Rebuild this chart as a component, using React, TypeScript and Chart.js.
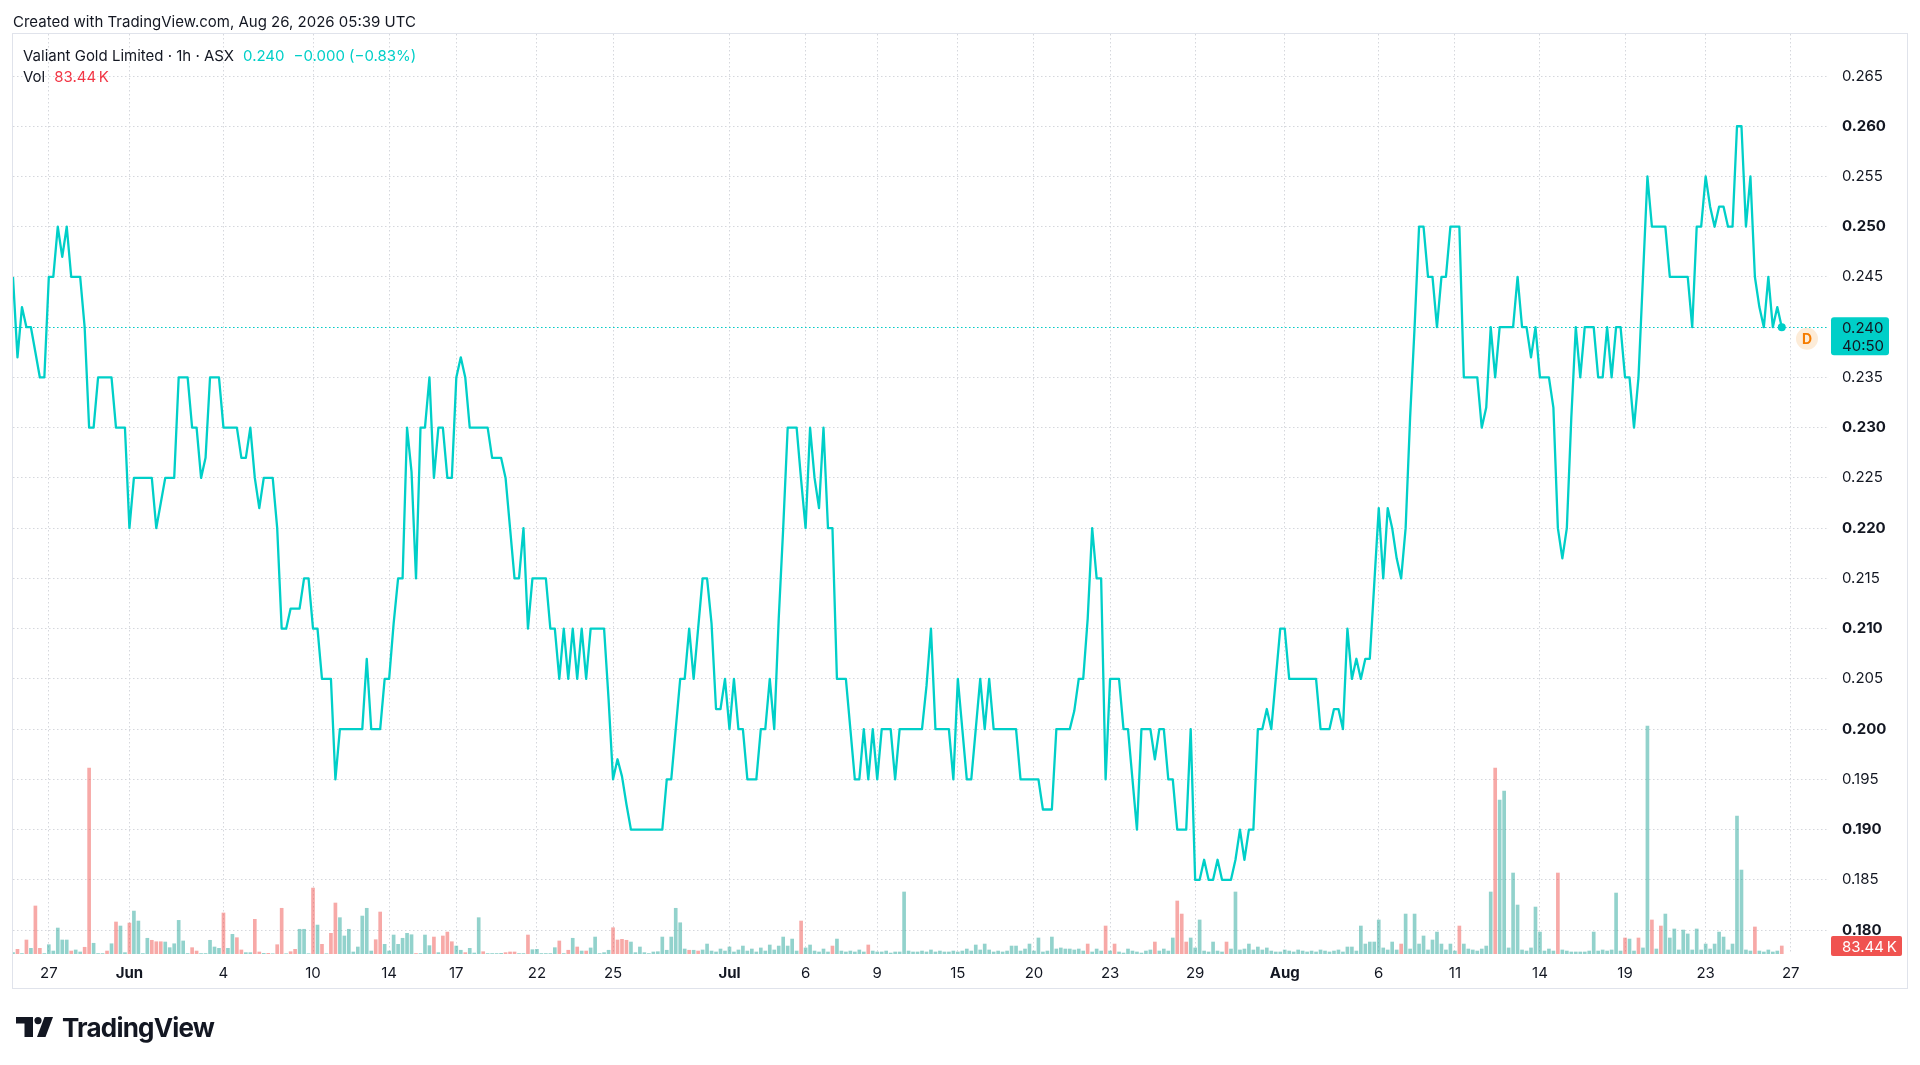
import React, { useEffect, useRef } from "react";
import { Chart, registerables } from "chart.js";

Chart.register(...registerables);

// ---------- data ----------
const headerText = "Created with TradingView.com, Aug 26, 2026 05:39 UTC";
const symbolTitle = "Valiant Gold Limited · 1h · ASX";
const lastPriceText = "0.240";
const changeText = "−0.000 (−0.83%)";
const volumeTitle = "Vol";
const volumeLabel = "83.44\u202FK";
const lastPriceCountdown = "40:50";
const brandText = "TradingView";

// hourly closes (one per bar)
const priceValues: number[] = [
  0.245, 0.237, 0.242, 0.24, 0.24, 0.2375, 0.235, 0.235, 0.245, 0.245,
  0.25, 0.247, 0.25, 0.245, 0.245, 0.245, 0.24, 0.23, 0.23, 0.235,
  0.235, 0.235, 0.235, 0.23, 0.23, 0.23, 0.22, 0.225, 0.225, 0.225,
  0.225, 0.225, 0.22, 0.2225, 0.225, 0.225, 0.225, 0.235, 0.235, 0.235,
  0.23, 0.23, 0.225, 0.227, 0.235, 0.235, 0.235, 0.23, 0.23, 0.23,
  0.23, 0.227, 0.227, 0.23, 0.225, 0.222, 0.225, 0.225, 0.225, 0.22,
  0.21, 0.21, 0.212, 0.212, 0.212, 0.215, 0.215, 0.21, 0.21, 0.205,
  0.205, 0.205, 0.195, 0.2, 0.2, 0.2, 0.2, 0.2, 0.2, 0.207,
  0.2, 0.2, 0.2, 0.205, 0.205, 0.2105, 0.215, 0.215, 0.23, 0.2256,
  0.215, 0.23, 0.23, 0.235, 0.225, 0.23, 0.23, 0.225, 0.225, 0.235,
  0.237, 0.235, 0.23, 0.23, 0.23, 0.23, 0.23, 0.227, 0.227, 0.227,
  0.225, 0.22, 0.215, 0.215, 0.22, 0.21, 0.215, 0.215, 0.215, 0.215,
  0.21, 0.21, 0.205, 0.21, 0.205, 0.21, 0.205, 0.21, 0.205, 0.21,
  0.21, 0.21, 0.21, 0.203, 0.195, 0.197, 0.1953, 0.1925, 0.19, 0.19,
  0.19, 0.19, 0.19, 0.19, 0.19, 0.19, 0.195, 0.195, 0.2, 0.205,
  0.205, 0.21, 0.205, 0.21, 0.215, 0.215, 0.2105, 0.202, 0.202, 0.205,
  0.2, 0.205, 0.2, 0.2, 0.195, 0.195, 0.195, 0.2, 0.2, 0.205,
  0.2, 0.211, 0.22, 0.23, 0.23, 0.23, 0.2248, 0.22, 0.23, 0.225,
  0.222, 0.23, 0.22, 0.22, 0.205, 0.205, 0.205, 0.2, 0.195, 0.195,
  0.2, 0.195, 0.2, 0.195, 0.2, 0.2, 0.2, 0.195, 0.2, 0.2,
  0.2, 0.2, 0.2, 0.2, 0.2043, 0.21, 0.2, 0.2, 0.2, 0.2,
  0.195, 0.205, 0.2, 0.195, 0.195, 0.2, 0.205, 0.2, 0.205, 0.2,
  0.2, 0.2, 0.2, 0.2, 0.2, 0.195, 0.195, 0.195, 0.195, 0.195,
  0.192, 0.192, 0.192, 0.2, 0.2, 0.2, 0.2, 0.2018, 0.205, 0.205,
  0.211, 0.22, 0.215, 0.215, 0.195, 0.205, 0.205, 0.205, 0.2, 0.2,
  0.195, 0.19, 0.2, 0.2, 0.2, 0.197, 0.2, 0.2, 0.195, 0.195,
  0.19, 0.19, 0.19, 0.2, 0.185, 0.185, 0.187, 0.185, 0.185, 0.187,
  0.185, 0.185, 0.185, 0.187, 0.19, 0.187, 0.19, 0.19, 0.2, 0.2,
  0.202, 0.2, 0.205, 0.21, 0.21, 0.205, 0.205, 0.205, 0.205, 0.205,
  0.205, 0.205, 0.2, 0.2, 0.2, 0.202, 0.202, 0.2, 0.21, 0.205,
  0.207, 0.205, 0.207, 0.207, 0.2145, 0.222, 0.215, 0.222, 0.22, 0.217,
  0.215, 0.22, 0.231, 0.24, 0.25, 0.25, 0.245, 0.245, 0.24, 0.245,
  0.245, 0.25, 0.25, 0.25, 0.235, 0.235, 0.235, 0.235, 0.23, 0.232,
  0.24, 0.235, 0.24, 0.24, 0.24, 0.24, 0.245, 0.24, 0.24, 0.237,
  0.24, 0.235, 0.235, 0.235, 0.232, 0.22, 0.217, 0.22, 0.231, 0.24,
  0.235, 0.24, 0.24, 0.24, 0.235, 0.235, 0.24, 0.235, 0.24, 0.24,
  0.235, 0.235, 0.23, 0.235, 0.245, 0.255, 0.25, 0.25, 0.25, 0.25,
  0.245, 0.245, 0.245, 0.245, 0.245, 0.24, 0.25, 0.25, 0.255, 0.252,
  0.25, 0.252, 0.252, 0.25, 0.25, 0.26, 0.26, 0.25, 0.255, 0.245,
  0.242, 0.24, 0.245, 0.24, 0.242, 0.24,
];

// hourly volume, thousands of shares
const volumeValues: number[] = [
  14, 49, 5, 146, 59, 501, 59, 5, 97, 31,
  271, 146, 146, 31, 42, 21, 70, 1940, 112, 5,
  5, 31, 107, 334, 292, 14, 323, 448, 344, 5,
  164, 143, 128, 128, 125, 66, 107, 351, 136, 5,
  66, 31, 5, 5, 143, 73, 59, 428, 59, 205,
  170, 42, 14, 14, 362, 21, 7, 7, 3, 97,
  477, 3, 24, 49, 258, 258, 3, 688, 302, 101,
  3, 216, 532, 379, 188, 258, 21, 73, 396, 477,
  31, 149, 438, 101, 31, 198, 101, 164, 216, 201,
  5, 5, 198, 87, 177, 14, 188, 229, 128, 83,
  39, 14, 59, 10, 379, 24, 5, 5, 5, 7,
  14, 21, 21, 5, 5, 198, 45, 49, 5, 5,
  5, 66, 136, 5, 39, 164, 73, 31, 31, 63,
  177, 5, 14, 39, 274, 146, 153, 143, 125, 14,
  73, 14, 5, 21, 24, 177, 39, 177, 477, 326,
  52, 39, 39, 31, 42, 104, 31, 21, 52, 31,
  73, 21, 42, 83, 31, 52, 21, 63, 31, 94,
  42, 83, 177, 83, 156, 31, 344, 63, 94, 31,
  21, 52, 21, 83, 156, 31, 21, 31, 21, 42,
  21, 94, 31, 21, 21, 31, 10, 21, 21, 647,
  31, 21, 21, 31, 21, 42, 21, 31, 21, 21,
  31, 21, 31, 52, 31, 94, 42, 104, 42, 21,
  31, 21, 31, 83, 83, 31, 52, 104, 31, 167,
  21, 31, 177, 52, 63, 52, 52, 42, 52, 31,
  104, 21, 52, 31, 292, 31, 104, 21, 10, 52,
  31, 21, 10, 31, 42, 125, 31, 52, 31, 167,
  553, 417, 125, 167, 63, 355, 31, 21, 125, 31,
  21, 125, 52, 647, 42, 52, 104, 42, 73, 42,
  63, 31, 21, 21, 42, 31, 21, 42, 31, 21,
  31, 21, 42, 31, 21, 31, 42, 21, 73, 73,
  31, 292, 104, 125, 125, 355, 63, 42, 125, 42,
  104, 417, 52, 417, 104, 188, 42, 146, 229, 104,
  42, 104, 31, 292, 104, 52, 42, 31, 52, 83,
  647, 1940, 1606, 1700, 63, 845, 511, 42, 31, 63,
  490, 229, 31, 52, 31, 845, 42, 31, 21, 21,
  21, 21, 31, 229, 31, 42, 31, 42, 636, 31,
  167, 156, 31, 167, 63, 2378, 355, 52, 292, 417,
  167, 261, 42, 250, 209, 42, 261, 42, 104, 52,
  104, 229, 177, 42, 104, 1439, 876, 42, 31, 282,
  31, 21, 42, 21, 31, 83.44,
];

// bars whose volume is drawn in the "down" colour
const volumeDownBars: number[] = [
  1, 3, 5, 6, 13, 16, 17, 21, 23, 26, 31, 32, 33, 40, 41, 47, 50, 51, 54, 55,
  57, 59, 60, 62, 63, 67, 69, 71, 72, 81, 82, 90, 94, 96, 97, 98, 101, 105,
  110, 111, 112, 115, 122, 124, 126, 128, 134, 135, 136, 137, 151, 153, 176,
  183, 191, 240, 244, 246, 255, 260, 261, 262, 271, 310, 323, 331, 345, 360,
  363, 366, 368, 389, 395,
];

// time axis: bar index of each labelled session and its label
const xTickIndex: number[] = [8, 26, 47, 67, 84, 99, 117, 134, 160, 177, 193, 211, 228, 245, 264, 284, 305, 322, 341, 360, 378, 397];
const xTickLabel: string[] = ["27", "Jun", "4", "10", "14", "17", "22", "25", "Jul", "6", "9", "15", "20", "23", "29", "Aug", "6", "11", "14", "19", "23", "27"];

// price axis
const yTickValues: number[] = [
  0.18, 0.185, 0.19, 0.195, 0.2, 0.205, 0.21, 0.215, 0.22, 0.225,
  0.23, 0.235, 0.24, 0.245, 0.25, 0.255, 0.26, 0.265,
];
const priceMin = 0.17762;
const priceMax = 0.26918;
const volumeAxisMax = 9600;
const barAxisMax = 405.1;

// ---------- styles ----------
const LINE = "#00cfc8";
const TEXT = "#131722";
const GRID = "#d5d7dc";
const UP_VOL = "rgba(38,166,154,0.5)";
const DOWN_VOL = "rgba(239,83,80,0.5)";
const DOWN_SOLID = "#f05350";
const FONT = "Inter, 'Noto Sans', sans-serif";

const downSet = new Set(volumeDownBars);

const overlayPlugin = {
  id: "tvOverlay",
  beforeDatasetsDraw(chart: any) {
    const { ctx, chartArea, scales } = chart;
    const last = priceValues.length - 1;
    const y = Math.round(scales.y.getPixelForValue(priceValues[last])) + 0.5;
    ctx.save();
    ctx.strokeStyle = LINE;
    ctx.lineWidth = 1;
    ctx.setLineDash([1.5, 2.5]);
    ctx.beginPath();
    ctx.moveTo(chartArea.left, y);
    ctx.lineTo(chartArea.right, y);
    ctx.stroke();
    ctx.restore();
  },
  afterDraw(chart: any) {
    const { ctx, chartArea, scales } = chart;
    const last = priceValues.length - 1;
    const py = scales.y.getPixelForValue(priceValues[last]);
    const bx = chartArea.right + 4;
    const tx = chartArea.right + 15;
    ctx.save();
    // last price label
    ctx.fillStyle = LINE;
    ctx.beginPath();
    (ctx as any).roundRect(bx, py - 10, 58, 38, 3);
    ctx.fill();
    ctx.fillStyle = TEXT;
    ctx.font = `15px ${FONT}`;
    ctx.textAlign = "left";
    ctx.textBaseline = "middle";
    ctx.fillText(priceValues[last].toFixed(3), tx, py + 1);
    ctx.fillText(lastPriceCountdown, tx, py + 19);
    // "D" badge
    const dx = chartArea.right - 20;
    const dy = py + 11.5;
    ctx.fillStyle = "#fdecd8";
    ctx.beginPath();
    ctx.arc(dx, dy, 11, 0, Math.PI * 2);
    ctx.fill();
    ctx.fillStyle = "#f57c00";
    ctx.font = `bold 14px ${FONT}`;
    ctx.textAlign = "center";
    ctx.fillText("D", dx, dy + 1);
    // volume label
    const vy = scales.yVol.getPixelForValue(volumeValues[last]);
    ctx.fillStyle = DOWN_SOLID;
    ctx.beginPath();
    (ctx as any).roundRect(bx, vy - 10, 71, 20, 2);
    ctx.fill();
    ctx.fillStyle = "#ffffff";
    ctx.font = `15px ${FONT}`;
    ctx.textAlign = "left";
    ctx.fillText(volumeLabel, tx, vy + 1);
    ctx.restore();
  },
};

function PriceChart() {
  const ref = useRef<HTMLCanvasElement | null>(null);
  useEffect(() => {
    if (!ref.current) return;
    const last = priceValues.length - 1;
    const chart = new Chart(ref.current, {
      type: "line",
      data: {
        datasets: [
          {
            type: "line",
            data: priceValues.map((v, i) => ({ x: i, y: v })),
            borderColor: LINE,
            borderWidth: 2.3,
            borderJoinStyle: "round",
            tension: 0,
            pointRadius: (c: any) => (c.dataIndex === last ? 4 : 0),
            pointHoverRadius: 0,
            pointBackgroundColor: LINE,
            pointBorderWidth: 0,
            xAxisID: "x",
            yAxisID: "y",
          } as any,
          {
            type: "bar",
            data: volumeValues.map((v, i) => ({ x: i, y: v })),
            backgroundColor: volumeValues.map((_, i) => (downSet.has(i) ? DOWN_VOL : UP_VOL)),
            borderWidth: 0,
            barThickness: 3,
            grouped: false,
            xAxisID: "x",
            yAxisID: "yVol",
          } as any,
        ],
      },
      options: {
        responsive: false,
        animation: false,
        events: [],
        layout: { padding: { left: 13, top: 34, right: 13, bottom: 77 } },
        plugins: { legend: { display: false }, tooltip: { enabled: false } },
        scales: {
          x: {
            type: "linear",
            position: "bottom",
            min: 0,
            max: barAxisMax,
            offset: false,
            afterBuildTicks: (s: any) => {
              s.ticks = xTickIndex.map((v) => ({ value: v }));
            },
            afterFit: (s: any) => {
              s.height = 34;
            },
            grid: { color: GRID, lineWidth: 1, drawTicks: false, offset: false },
            border: { display: false, dash: [1.5, 2.5] },
            ticks: {
              autoSkip: false,
              maxRotation: 0,
              padding: 10,
              color: TEXT,
              callback: (_v: any, i: number) => xTickLabel[i],
              font: (c: any) => ({
                family: FONT,
                size: 15,
                weight: isNaN(Number(xTickLabel[c.index])) ? "bold" : "normal",
              }),
            },
          } as any,
          y: {
            type: "linear",
            position: "right",
            min: priceMin,
            max: priceMax,
            afterBuildTicks: (s: any) => {
              s.ticks = yTickValues.map((v) => ({ value: v }));
            },
            afterFit: (s: any) => {
              s.width = 80;
            },
            grid: { color: GRID, lineWidth: 1, drawTicks: false },
            border: { display: false, dash: [1.5, 2.5] },
            ticks: {
              autoSkip: false,
              padding: 15,
              color: TEXT,
              callback: (v: any) => Number(v).toFixed(3),
              font: (c: any) => {
                const v = c.tick ? c.tick.value : 0;
                const bold = Math.round(v * 1000) % 10 === 0;
                return { family: FONT, size: 15, weight: bold ? "bold" : "normal" };
              },
            },
          } as any,
          yVol: {
            type: "linear",
            display: false,
            min: 0,
            max: volumeAxisMax,
          },
        },
      },
      plugins: [overlayPlugin as any],
    });
    return () => chart.destroy();
  }, []);
  return (
    <canvas
      ref={ref}
      width={1920}
      height={1065}
      style={{ position: "absolute", left: 0, top: 0, width: 1920, height: 1065 }}
    />
  );
}

export default function App() {
  return (
    <div
      style={{
        position: "fixed",
        left: 0,
        top: 0,
        width: 1920,
        height: 1065,
        overflow: "hidden",
        background: "#ffffff",
        fontFamily: FONT,
        color: TEXT,
      }}
    >
      <div
        style={{
          position: "absolute",
          left: 12,
          top: 33,
          width: 1896,
          height: 956,
          border: "1px solid #e0e3eb",
          boxSizing: "border-box",
        }}
      />
      <PriceChart />
      <div style={{ position: "absolute", left: 13, top: 12.5, fontSize: 15, lineHeight: "18px", whiteSpace: "nowrap" }}>
        {headerText}
      </div>
      <div style={{ position: "absolute", left: 23, top: 47, fontSize: 15, lineHeight: "18px", whiteSpace: "nowrap" }}>
        <span>{symbolTitle}</span>
        <span style={{ color: LINE, marginLeft: 9 }}>{lastPriceText}</span>
        <span style={{ color: LINE, marginLeft: 9 }}>{changeText}</span>
      </div>
      <div style={{ position: "absolute", left: 23, top: 67.5, fontSize: 15, lineHeight: "18px", whiteSpace: "nowrap" }}>
        <span>{volumeTitle}</span>
        <span style={{ color: "#f23645", marginLeft: 9 }}>{volumeLabel}</span>
      </div>
      <svg
        width={37}
        height={20}
        viewBox="0 0 37 20"
        style={{ position: "absolute", left: 15.5, top: 1017 }}
      >
        <path d="M0 0H17V20H8.5V6.5H0Z" fill="#131722" />
        <circle cx={22} cy={3.6} r={3.6} fill="#131722" />
        <path d="M21 20L28.5 0H37L29.5 20Z" fill="#131722" />
      </svg>
      <div
        style={{
          position: "absolute",
          left: 62,
          top: 1015,
          fontSize: 26,
          lineHeight: "26px",
          fontWeight: 700,
          letterSpacing: "-0.8px",
          whiteSpace: "nowrap",
          color: "#131722",
        }}
      >
        {brandText}
      </div>
    </div>
  );
}
